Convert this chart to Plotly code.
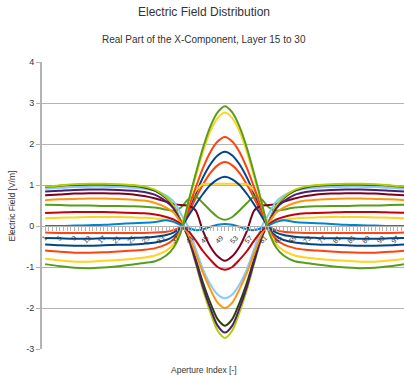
import plotly.graph_objects as go

aperture_index = [1, 5, 9, 13, 17, 21, 25, 28, 31, 34, 36, 38, 40, 42, 44, 46, 48, 50,
                  52, 54, 56, 58, 60, 62, 64, 66, 69, 72, 75, 79, 83, 87, 91, 95, 99]

layer_names = [f"Layer {k}" for k in range(15, 31)]
layer_colors = ["#004586", "#ff420e", "#ffd320", "#579d1c", "#7e0021", "#83caff",
                "#314004", "#aecf00", "#4b1f6f", "#ff950e", "#c5000b", "#0084d1",
                "#004586", "#ff420e", "#ffd320", "#579d1c"]

layer15 = [-0.45, -0.47, -0.48, -0.48, -0.47, -0.46, -0.45, -0.43, -0.40, -0.34, -0.25, -0.07, 0.36, 0.78, 1.18, 1.50, 1.72, 1.81,
           1.72, 1.50, 1.18, 0.78, 0.36, -0.07, -0.25, -0.34, -0.40, -0.43, -0.45, -0.46, -0.47, -0.48, -0.48, -0.47, -0.45]
layer16 = [-0.16, -0.17, -0.17, -0.17, -0.17, -0.17, -0.17, -0.17, -0.16, -0.14, -0.10, -0.02, 0.31, 0.67, 1.01, 1.29, 1.48, 1.56,
           1.48, 1.29, 1.01, 0.67, 0.31, -0.02, -0.10, -0.14, -0.16, -0.17, -0.17, -0.17, -0.17, -0.17, -0.17, -0.17, -0.16]
layer17 = [0.19, 0.20, 0.21, 0.22, 0.22, 0.22, 0.21, 0.20, 0.18, 0.15, 0.13, 0.10, 0.45, 0.85, 1.02, 1.03, 1.03, 1.03,
           1.03, 1.03, 1.02, 0.85, 0.45, 0.10, 0.13, 0.15, 0.18, 0.20, 0.21, 0.22, 0.22, 0.22, 0.21, 0.20, 0.19]
layer18 = [0.52, 0.51, 0.50, 0.50, 0.49, 0.49, 0.48, 0.47, 0.45, 0.40, 0.37, 0.45, 0.65, 0.72, 0.56, 0.38, 0.22, 0.15,
           0.22, 0.38, 0.56, 0.72, 0.65, 0.45, 0.37, 0.40, 0.45, 0.47, 0.48, 0.49, 0.49, 0.50, 0.50, 0.51, 0.52]
layer19 = [0.75, 0.77, 0.79, 0.80, 0.80, 0.79, 0.77, 0.73, 0.67, 0.59, 0.54, 0.51, 0.50, 0.38, -0.12, -0.50, -0.74, -0.85,
           -0.74, -0.50, -0.12, 0.38, 0.50, 0.51, 0.54, 0.59, 0.67, 0.73, 0.77, 0.79, 0.80, 0.80, 0.79, 0.77, 0.75]
layer20 = [0.91, 0.93, 0.95, 0.96, 0.96, 0.95, 0.93, 0.91, 0.86, 0.74, 0.60, 0.30, -0.02, -0.55, -1.05, -1.42, -1.67, -1.76,
           -1.67, -1.42, -1.05, -0.55, -0.02, 0.30, 0.60, 0.74, 0.86, 0.91, 0.93, 0.95, 0.96, 0.96, 0.95, 0.93, 0.91]
layer21 = [0.95, 0.98, 1.00, 1.01, 1.01, 1.00, 0.98, 0.94, 0.86, 0.68, 0.49, 0.12, -0.27, -0.80, -1.38, -1.87, -2.27, -2.43,
           -2.27, -1.87, -1.38, -0.80, -0.27, 0.12, 0.49, 0.68, 0.86, 0.94, 0.98, 1.00, 1.01, 1.01, 1.00, 0.98, 0.95]
layer22 = [0.96, 0.99, 1.02, 1.03, 1.03, 1.02, 1.00, 0.96, 0.88, 0.70, 0.50, 0.12, -0.30, -0.90, -1.55, -2.10, -2.55, -2.73,
           -2.55, -2.10, -1.55, -0.90, -0.30, 0.12, 0.50, 0.70, 0.88, 0.96, 1.00, 1.02, 1.03, 1.03, 1.02, 0.99, 0.96]
layer23 = [0.84, 0.86, 0.88, 0.89, 0.89, 0.88, 0.86, 0.83, 0.76, 0.60, 0.43, 0.10, -0.28, -0.86, -1.48, -2.00, -2.43, -2.60,
           -2.43, -2.00, -1.48, -0.86, -0.28, 0.10, 0.43, 0.60, 0.76, 0.83, 0.86, 0.88, 0.89, 0.89, 0.88, 0.86, 0.84]
layer24 = [0.63, 0.65, 0.66, 0.67, 0.67, 0.66, 0.64, 0.62, 0.56, 0.45, 0.33, 0.08, -0.20, -0.66, -1.14, -1.54, -1.87, -2.00,
           -1.87, -1.54, -1.14, -0.66, -0.20, 0.08, 0.33, 0.45, 0.56, 0.62, 0.64, 0.66, 0.67, 0.67, 0.66, 0.65, 0.63]
layer25 = [0.32, 0.33, 0.34, 0.34, 0.34, 0.33, 0.32, 0.31, 0.28, 0.22, 0.16, 0.04, -0.12, -0.35, -0.61, -0.82, -1.00, -1.07,
           -1.00, -0.82, -0.61, -0.35, -0.12, 0.04, 0.16, 0.22, 0.28, 0.31, 0.32, 0.33, 0.34, 0.34, 0.34, 0.33, 0.32]
layer26 = [0.00, 0.00, 0.01, 0.02, 0.03, 0.05, 0.07, 0.08, 0.10, 0.14, 0.10, 0.02, -0.05, -0.10, -0.08, -0.02, 0.03, 0.05,
           0.03, -0.02, -0.08, -0.10, -0.05, 0.02, 0.10, 0.14, 0.10, 0.08, 0.07, 0.05, 0.03, 0.02, 0.01, 0.00, 0.00]
layer27 = [-0.29, -0.30, -0.31, -0.31, -0.30, -0.30, -0.29, -0.28, -0.26, -0.22, -0.16, -0.04, 0.24, 0.52, 0.78, 1.00, 1.14, 1.20,
           1.14, 1.00, 0.78, 0.52, 0.24, -0.04, -0.16, -0.22, -0.26, -0.28, -0.29, -0.30, -0.30, -0.31, -0.31, -0.30, -0.29]
layer28 = [-0.60, -0.63, -0.65, -0.65, -0.64, -0.62, -0.60, -0.58, -0.54, -0.45, -0.33, -0.09, 0.43, 0.93, 1.41, 1.80, 2.06, 2.17,
           2.06, 1.80, 1.41, 0.93, 0.43, -0.09, -0.33, -0.45, -0.54, -0.58, -0.60, -0.62, -0.64, -0.65, -0.65, -0.63, -0.60]
layer29 = [-0.80, -0.84, -0.87, -0.87, -0.85, -0.83, -0.80, -0.77, -0.72, -0.60, -0.45, -0.12, 0.55, 1.19, 1.80, 2.30, 2.63, 2.77,
           2.63, 2.30, 1.80, 1.19, 0.55, -0.12, -0.45, -0.60, -0.72, -0.77, -0.80, -0.83, -0.85, -0.87, -0.87, -0.84, -0.80]
layer30 = [-0.93, -0.98, -1.02, -1.03, -1.01, -0.98, -0.94, -0.90, -0.86, -0.72, -0.53, -0.15, 0.58, 1.26, 1.90, 2.42, 2.77, 2.92,
           2.77, 2.42, 1.90, 1.26, 0.58, -0.15, -0.53, -0.72, -0.86, -0.90, -0.94, -0.98, -1.01, -1.03, -1.02, -0.98, -0.93]

layers = [layer15, layer16, layer17, layer18, layer19, layer20, layer21, layer22,
          layer23, layer24, layer25, layer26, layer27, layer28, layer29, layer30]

x_tick_values = list(range(1, 98, 4))
x_tick_labels = [str(v) for v in x_tick_values]
y_tick_values = [-3, -2, -1, 0, 1, 2, 3, 4]
y_tick_labels = ["-3", "-2", "-1", "0", "1", "2", "3", "4"]

FONT = "Liberation Sans, Arial, sans-serif"
GRID = "#b3b3b3"
TEXT = "#333333"

fig = go.Figure()
for name, color, vals in zip(layer_names, layer_colors, layers):
    fig.add_trace(go.Scatter(x=aperture_index, y=vals, mode="lines", name=name,
                             line=dict(color=color, width=2, shape="spline", smoothing=0.8)))

fig.update_layout(
    width=404, height=375,
    margin=dict(l=42, r=0, t=62, b=26),
    paper_bgcolor="white", plot_bgcolor="white",
    showlegend=False,
    font=dict(family=FONT, color=TEXT),
    xaxis=dict(range=[0.15, 98.8], anchor="free", position=3 / 7,
               showgrid=False, zeroline=False,
               showline=True, linecolor=GRID, linewidth=1,
               tickmode="array", tickvals=x_tick_values, ticktext=x_tick_labels,
               ticks="outside", ticklen=4, tickcolor=GRID, tickangle=-45,
               tickfont=dict(size=7, color=TEXT, family=FONT),
               minor=dict(tickmode="linear", tick0=1, dtick=1, ticks="outside",
                          ticklen=4, tickcolor=GRID)),
    yaxis=dict(range=[-3, 4], tickmode="array", tickvals=y_tick_values, ticktext=y_tick_labels,
               showgrid=True, gridcolor=GRID, gridwidth=1, zeroline=False,
               showline=True, linecolor=GRID, linewidth=2,
               ticks="outside", ticklen=4, tickcolor=GRID,
               tickfont=dict(size=9, color=TEXT, family=FONT)),
    annotations=[
        dict(text="Electric Field Distribution", xref="paper", yref="paper",
             x=0.4475, y=1.174, xanchor="center", yanchor="middle", showarrow=False,
             font=dict(size=12, color=TEXT, family=FONT)),
        dict(text="Real Part of the X-Component, Layer 15 to 30", xref="paper", yref="paper",
             x=0.4475, y=1.0767, xanchor="center", yanchor="middle", showarrow=False,
             font=dict(size=10, color=TEXT, family=FONT)),
        dict(text="Aperture Index [-]", xref="paper", yref="paper",
             x=0.4475, y=-0.073, xanchor="center", yanchor="middle", showarrow=False,
             font=dict(size=8.5, color=TEXT, family=FONT)),
        dict(text="Electric Field [V/m]", xref="paper", yref="paper",
             x=-0.083, y=0.5, xanchor="center", yanchor="middle", showarrow=False,
             textangle=-90, font=dict(size=8.5, color=TEXT, family=FONT)),
    ],
)

fig.write_html("out.html", config={"displayModeBar": False},
               post_script="document.body.style.margin='0';document.body.style.overflow='hidden';")
